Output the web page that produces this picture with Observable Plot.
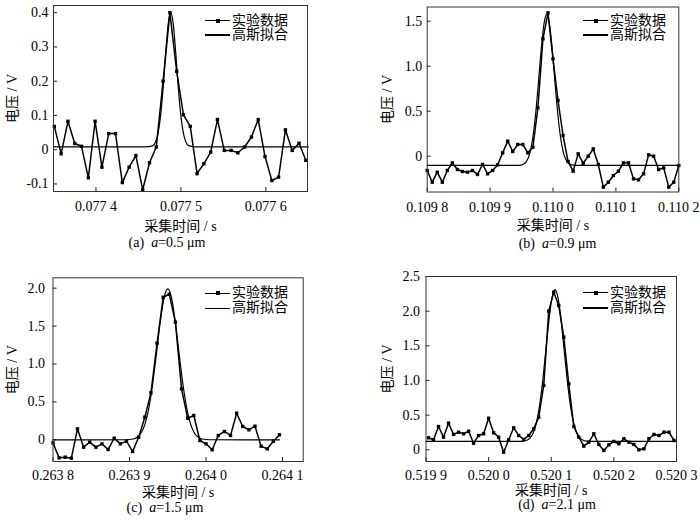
<!DOCTYPE html>
<html><head><meta charset="utf-8">
<script src="https://cdn.jsdelivr.net/npm/d3@7"></script>
<script src="https://cdn.jsdelivr.net/npm/@observablehq/plot@0.6"></script>
<style>
body{margin:0;background:#fff;}
#fig{position:relative;width:700px;height:521px;overflow:hidden;font-family:"Liberation Serif","Noto Sans CJK SC",serif;color:#000;}
#fig svg, #fig svg text{font-family:"Liberation Serif","Noto Sans CJK SC",serif !important;font-size:14px !important;}
.panel{position:absolute;}
.cap{position:absolute;font-size:14px;line-height:16px;white-space:pre;transform:translateX(-50%);}
.lg{position:absolute;font-size:14px;line-height:16px;white-space:nowrap;}
.ln{position:absolute;height:1.4px;background:#000;width:25px;}
.mk{position:absolute;width:4px;height:4px;background:#000;}
</style></head><body><div id="fig"></div><script>
// ---------- data ----------
const tA = [0.077351,0.077359,0.077367,0.077375,0.077383,0.077391,0.077399,0.077407,0.077415,0.077423,
0.077431,0.077439,0.077447,0.077455,0.077463,0.077471,0.077479,0.077487,0.077495,0.077503,
0.077511,0.077519,0.077527,0.077535,0.077543,0.077551,0.077559,0.077567,0.077575,0.077583,
0.077591,0.077599,0.077607,0.077615,0.077623,0.077631,0.077639,0.077647];
const vA = [0.068,-0.012,0.083,0.018,0.010,-0.082,0.083,-0.051,0.047,0.047,
-0.096,-0.051,-0.017,-0.117,-0.038,0.008,0.200,0.400,0.229,0.102,
0.068,-0.070,-0.041,-0.007,0.088,-0.002,-0.002,-0.009,0.008,0.037,
0.088,-0.020,-0.090,-0.080,0.058,-0.002,0.019,-0.031];
const fitTA = [0.07735,0.077458,0.077467,0.077470,0.077473,0.077476,0.077479,0.077482,0.077485,0.077488,
0.077491,0.077494,0.077497,0.077500,0.077503,0.077506,0.077509,0.077518,0.07765];
const fitVA = [0.008,0.008,0.012,0.022,0.047,0.098,0.179,0.280,0.366,0.400,
0.366,0.280,0.179,0.098,0.047,0.022,0.012,0.008,0.008];

const tB = [0.109800,0.109808,0.109816,0.109824,0.109832,0.109840,0.109848,0.109856,0.109864,0.109872,
0.109880,0.109888,0.109896,0.109904,0.109912,0.109920,0.109928,0.109936,0.109944,0.109952,
0.109960,0.109968,0.109976,0.109984,0.109992,0.110000,0.110008,0.110016,0.110024,0.110032,
0.110040,0.110048,0.110056,0.110064,0.110072,0.110080,0.110088,0.110096,0.110104,0.110112,
0.110120,0.110128,0.110136,0.110144,0.110152,0.110160,0.110168,0.110176,0.110184,0.110192,0.110200];
const vB = [-0.159,-0.289,-0.178,-0.289,-0.159,-0.074,-0.148,-0.170,-0.178,-0.159,
-0.203,-0.092,-0.196,-0.159,-0.096,0.037,0.167,0.052,0.130,0.130,
0.037,0.100,0.537,1.304,1.593,1.082,0.619,0.230,-0.060,-0.167,
0.026,-0.078,0.000,0.081,-0.092,-0.344,-0.289,-0.215,-0.167,-0.074,
-0.074,-0.252,-0.263,-0.196,0.015,0.000,-0.148,-0.130,-0.344,-0.289,-0.104];
const fitTB = [0.1098,0.109942,0.109950,0.109954,0.109958,0.109962,0.109966,0.109970,0.109974,0.109978,
0.109982,0.109986,0.109990,0.109994,0.109998,0.110002,0.110006,0.110010,0.110014,0.110018,
0.110022,0.110026,0.110030,0.110038,0.1102];
const fitVB = [-0.103,-0.103,-0.097,-0.084,-0.055,0.007,0.124,0.316,0.588,0.916,
1.243,1.486,1.577,1.486,1.243,0.916,0.588,0.316,0.124,0.007,
-0.055,-0.084,-0.097,-0.103,-0.103];

const tC = [0.263800,0.263808,0.263816,0.263824,0.263832,0.263840,0.263848,0.263856,0.263864,0.263872,
0.263880,0.263888,0.263896,0.263904,0.263912,0.263920,0.263928,0.263936,0.263944,0.263952,
0.263960,0.263968,0.263976,0.263984,0.263992,0.264000,0.264008,0.264016,0.264024,0.264032,
0.264040,0.264048,0.264056,0.264064,0.264072,0.264080,0.264088,0.264096];
const vC = [-0.040,-0.238,-0.229,-0.242,0.145,-0.097,-0.031,-0.097,-0.053,-0.128,
0.022,-0.053,-0.018,-0.154,0.035,0.298,0.620,1.274,1.881,1.920,
1.552,0.672,0.285,0.321,-0.009,-0.053,-0.132,0.057,0.110,0.057,
0.351,0.176,0.132,0.180,-0.084,-0.119,-0.018,0.066];
const fitTC = [0.2638,0.263895,0.263905,0.263910,0.263915,0.263920,0.263925,0.263930,0.263935,0.263940,
0.263945,0.263950,0.263955,0.263960,0.263965,0.263970,0.263975,0.263980,0.263985,0.263990,
0.263995,0.264005,0.264096];
const fitVC = [0,0.001,0.011,0.034,0.087,0.200,0.404,0.717,1.121,1.542,
1.867,1.990,1.867,1.542,1.121,0.717,0.404,0.200,0.087,0.034,
0.011,0.001,0];

const tD = [0.519904,0.519912,0.519920,0.519928,0.519936,0.519944,0.519952,0.519960,0.519968,0.519976,
0.519984,0.519992,0.520000,0.520008,0.520016,0.520024,0.520032,0.520040,0.520048,0.520056,
0.520064,0.520072,0.520080,0.520088,0.520096,0.520104,0.520112,0.520120,0.520128,0.520136,
0.520144,0.520152,0.520160,0.520168,0.520176,0.520184,0.520192,0.520200,0.520208,0.520216,
0.520224,0.520232,0.520240,0.520248,0.520256,0.520264,0.520272,0.520280,0.520288,0.520296];
const vD = [0.173,0.144,0.336,0.182,0.384,0.221,0.254,0.231,0.268,0.095,
0.206,0.231,0.456,0.245,0.182,-0.035,0.144,0.317,0.206,0.149,
0.206,0.303,0.471,0.928,2.000,2.274,2.082,1.625,0.950,0.336,
0.182,0.053,0.110,0.231,0.077,-0.010,0.072,0.120,0.087,0.159,
0.110,0.077,0.000,0.014,0.159,0.221,0.206,0.254,0.254,0.134];
const fitTD = [0.5199,0.520046,0.520056,0.520061,0.520066,0.520071,0.520076,0.520081,0.520086,0.520091,
0.520096,0.520101,0.520106,0.520111,0.520116,0.520121,0.520126,0.520131,0.520136,0.520141,
0.520146,0.520151,0.520156,0.520166,0.5203];
const fitVD = [0.12,0.12,0.126,0.138,0.169,0.239,0.378,0.616,0.966,1.403,
1.846,2.183,2.310,2.183,1.846,1.403,0.966,0.616,0.378,0.239,
0.169,0.138,0.126,0.12,0.12];

const xTicksA = [0.0774,0.0775,0.0776];
const xLabelsA = ["0.077 4","0.077 5","0.077 6"];
const yTicksA = [-0.1,0,0.1,0.2,0.3,0.4];
const yLabelsA = ["-0.1","0","0.1","0.2","0.3","0.4"];
const xTicksB = [0.1098,0.1099,0.1100,0.1101,0.1102];
const xLabelsB = ["0.109 8","0.109 9","0.110 0","0.110 1","0.110 2"];
const yTicksB = [0,0.5,1.0,1.5];
const yLabelsB = ["0","0.5","1.0","1.5"];
const xTicksC = [0.2638,0.2639,0.2640,0.2641];
const xLabelsC = ["0.263 8","0.263 9","0.264 0","0.264 1"];
const yTicksC = [0,0.5,1.0,1.5,2.0];
const yLabelsC = ["0","0.5","1.0","1.5","2.0"];
const xTicksD = [0.5199,0.5200,0.5201,0.5202,0.5203];
const xLabelsD = ["0.519 9","0.520 0","0.520 1","0.520 2","0.520 3"];
const yTicksD = [0,0.5,1.0,1.5,2.0,2.5];
const yLabelsD = ["0","0.5","1.0","1.5","2.0","2.5"];

const xTitle = "采集时间 / s";
const yTitle = "电压 / V";
const legendNames = ["实验数据","高斯拟合"];
const captionTags = ["(a)","(b)","(c)","(d)"];
const captionValues = ["0.5","0.9","1.5","2.1"];

// ---------- layout ----------
const panels = [
 {left:0,top:0,width:340,height:250,mL:53,mR:33,mT:5,mB:59,xDomain:[0.07735,0.077649],yDomain:[-0.122,0.421],
  t:tA,v:vA,ft:fitTA,fv:fitVA,xt:xTicksA,xl:xLabelsA,yt:yTicksA,yl:yLabelsA,xPad:10,yPad:5,xLO:39,yLO:46,
  cap:[167,243],lg:[205,20.7,35]},
 {left:360,top:0,width:340,height:250,mL:66.7,mR:21.7,mT:6.5,mB:58.5,xDomain:[0.1098,0.1102],yDomain:[-0.398,1.658],
  t:tB,v:vB,ft:fitTB,fv:fitVB,xt:xTicksB,xl:xLabelsB,yt:yTicksB,yl:yLabelsB,xPad:10,yPad:5,xLO:38,yLO:45,
  cap:[557.5,244],lg:[583,20.7,35]},
 {left:0,top:260,width:340,height:261,mL:52.5,mR:37.3,mT:17.3,mB:60,xDomain:[0.2638,0.264127],yDomain:[-0.286,2.137],
  t:tC,v:vC,ft:fitTC,fv:fitVC,xt:xTicksC,xl:xLabelsC,yt:yTicksC,yl:yLabelsC,xPad:8.5,yPad:8,xLO:35,yLO:45.5,
  cap:[165,508],lg:[205,293.3,308.3]},
 {left:360,top:260,width:340,height:261,mL:65.5,mR:24,mT:16,mB:60,xDomain:[0.5199,0.5203],yDomain:[-0.169,2.5],
  t:tD,v:vD,ft:fitTD,fv:fitVD,xt:xTicksD,xl:xLabelsD,yt:yTicksD,yl:yLabelsD,xPad:8.5,yPad:6,xLO:33,yLO:44,
  cap:[557,505],lg:[583,292.7,308]}
];

const fig = document.getElementById("fig");
const FONT = '"Liberation Serif","Noto Sans CJK SC",serif';

panels.forEach((p, k) => {
  const innerW = p.width - p.mL - p.mR, innerH = p.height - p.mT - p.mB;
  const data = p.t.map((t, i) => ({t, v: p.v[i]}));
  const fit = p.ft.map((t, i) => ({t, v: p.fv[i]}));
  const chart = Plot.plot({
    width: p.width, height: p.height,
    marginLeft: p.mL, marginRight: p.mR, marginTop: p.mT, marginBottom: p.mB,
    style: {fontFamily: FONT, fontSize: "14px", background: "transparent", color: "#000", overflow: "visible"},
    x: {domain: p.xDomain},
    y: {domain: p.yDomain},
    marks: [
      Plot.ruleX(p.xt, {x: d => d, insetTop: innerH - 4, stroke: "#222"}),
      Plot.ruleY(p.yt, {y: d => d, insetRight: innerW - 4, stroke: "#222"}),
      Plot.axisX({ticks: p.xt, tickFormat: d => p.xl[p.xt.indexOf(d)], tickSize: 0, tickPadding: p.xPad,
        label: xTitle, labelAnchor: "center", labelOffset: p.xLO, labelArrow: "none", fontFamily: FONT}),
      Plot.axisY({ticks: p.yt, tickFormat: d => p.yl[p.yt.indexOf(d)], tickSize: 0, tickPadding: p.yPad,
        label: yTitle, labelAnchor: "center", labelOffset: p.yLO, labelArrow: "none", fontFamily: FONT}),
      Plot.line(fit, {x: "t", y: "v", curve: "monotone-x", stroke: "#000", strokeWidth: 1.2}),
      Plot.line(data, {x: "t", y: "v", stroke: "#000", strokeWidth: 1.5}),
      Plot.dot(data, {x: "t", y: "v", symbol: "square", r: 1.9, fill: "#000", stroke: "none"}),
      Plot.frame({stroke: "#333", strokeWidth: 1})
    ]
  });
  const wrap = document.createElement("div");
  wrap.className = "panel";
  wrap.style.left = p.left + "px";
  wrap.style.top = p.top + "px";
  wrap.appendChild(chart);
  fig.appendChild(wrap);

  // caption
  const cap = document.createElement("div");
  cap.className = "cap";
  cap.style.left = p.cap[0] + "px";
  cap.style.top = (p.cap[1] - 8) + "px";
  cap.innerHTML = captionTags[k] + "  <i>a</i>=" + captionValues[k] + " μm";
  fig.appendChild(cap);

  // legend
  const [lx, y1, y2] = p.lg;
  [y1, y2].forEach((yy, j) => {
    const ln = document.createElement("div");
    ln.className = "ln";
    ln.style.left = lx + "px"; ln.style.top = (yy - 0.7) + "px";
    fig.appendChild(ln);
    if (j === 0) {
      const mk = document.createElement("div");
      mk.className = "mk";
      mk.style.left = (lx + 10.5) + "px"; mk.style.top = (yy - 2) + "px";
      fig.appendChild(mk);
    }
    const tx = document.createElement("div");
    tx.className = "lg";
    tx.style.left = (lx + 27) + "px"; tx.style.top = (yy - 8) + "px";
    tx.textContent = legendNames[j];
    fig.appendChild(tx);
  });
});
</script></body></html>
